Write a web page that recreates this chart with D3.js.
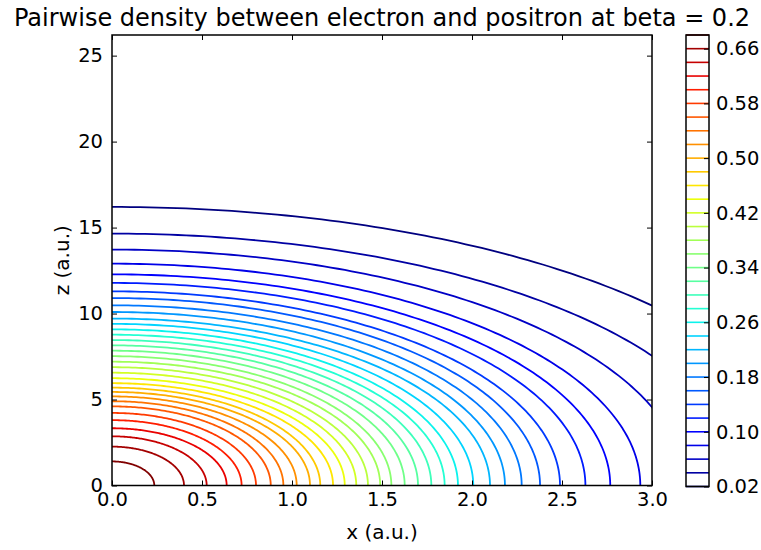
<!DOCTYPE html>
<html>
<head>
<meta charset="utf-8">
<script src="https://cdn.jsdelivr.net/npm/d3@7"></script>
<style>
  body { margin: 0; background: #fff; }
  text { font-family: "DejaVu Sans", sans-serif; fill: #000; }
</style>
</head>
<body>
<script>
// contour levels of the pairwise density
const levels = [0.02, 0.04, 0.06, 0.08, 0.10, 0.12, 0.14, 0.16, 0.18, 0.20, 0.22, 0.24,
  0.26, 0.28, 0.30, 0.32, 0.34, 0.36, 0.38, 0.40, 0.42, 0.44, 0.46, 0.48, 0.50,
  0.52, 0.54, 0.56, 0.58, 0.60, 0.62, 0.64, 0.66, 0.68]
// where each contour meets the x axis (z = 0), in a.u.
const xCross = [3.93, 3.50, 3.18, 2.935, 2.768, 2.63, 2.489, 2.378, 2.276, 2.183, 2.10, 2.007,
  1.922, 1.848, 1.774, 1.70, 1.626, 1.552, 1.49, 1.422, 1.357, 1.293, 1.228, 1.157, 1.10,
  1.026, 0.952, 0.882, 0.80, 0.72, 0.637, 0.526, 0.40, 0.235]
// where each contour meets the z axis (x = 0), in a.u.
const zCross = [16.2, 14.65, 13.72, 12.9, 12.28, 11.78, 11.29, 10.9, 10.48, 10.09, 9.71, 9.4,
  9.08, 8.77, 8.46, 8.15, 7.84, 7.52, 7.2, 6.88, 6.56, 6.24, 5.95, 5.69, 5.44,
  5.18, 4.9, 4.6, 4.22, 3.8, 3.33, 2.86, 2.26, 1.4]
const xTicks = [0, 0.5, 1.0, 1.5, 2.0, 2.5, 3.0]
const zTicks = [0, 5, 10, 15, 20, 25]
const barTicks = [0.02, 0.10, 0.18, 0.26, 0.34, 0.42, 0.50, 0.58, 0.66]

const w = 761
const h = 550
const padLeft = 112, padRight = 652, padTop = 35, padBottom = 485.5
const tickFont = 19.5

// matplotlib "jet"
const jetR = d3.scaleLinear().domain([0, 0.35, 0.66, 0.89, 1]).range([0, 0, 1, 1, 0.5]).clamp(true)
const jetG = d3.scaleLinear().domain([0, 0.125, 0.375, 0.64, 0.91, 1]).range([0, 0, 1, 1, 0, 0]).clamp(true)
const jetB = d3.scaleLinear().domain([0, 0.11, 0.34, 0.65, 1]).range([0.5, 1, 1, 0, 0]).clamp(true)
const norm = d3.scaleLinear().domain([d3.min(levels), d3.max(levels)]).range([0, 1])
const color = v => {
  const t = norm(v)
  return d3.rgb(jetR(t) * 255, jetG(t) * 255, jetB(t) * 255).toString()
}

const xScale = d3.scaleLinear().domain([0, 3]).range([padLeft, padRight])
const yScale = d3.scaleLinear().domain([0, 26.2]).range([padBottom, padTop])

const svg = d3.select('body')
  .append('svg')
  .attr('width', w)
  .attr('height', h)

svg.append('defs').append('clipPath')
  .attr('id', 'plotclip')
  .append('rect')
  .attr('x', padLeft).attr('y', padTop)
  .attr('width', padRight - padLeft).attr('height', padBottom - padTop)

const line = d3.line()
  .x(d => xScale(d[0]))
  .y(d => yScale(d[1]))

const angles = d3.range(0, 121).map(i => i / 120 * Math.PI / 2)

svg.append('g')
  .attr('clip-path', 'url(#plotclip)')
  .selectAll('path')
  .data(levels)
  .enter()
  .append('path')
  .attr('d', (d, i) => line(angles.map(t => [xCross[i] * Math.cos(t), zCross[i] * Math.sin(t)])))
  .attr('fill', 'none')
  .attr('stroke', d => color(d))
  .attr('stroke-width', 1.8)

// axes, matplotlib classic style: ticks pointing inward on all sides
const fmtX = d3.format('.1f')
svg.append('g')
  .attr('transform', `translate(0, ${padBottom})`)
  .call(d3.axisBottom(xScale).tickValues(xTicks).tickFormat(fmtX).tickSizeInner(-5).tickSizeOuter(0).tickPadding(7))
svg.append('g')
  .attr('transform', `translate(0, ${padTop})`)
  .call(d3.axisTop(xScale).tickValues(xTicks).tickFormat('').tickSizeInner(-5).tickSizeOuter(0))
svg.append('g')
  .attr('transform', `translate(${padLeft}, 0)`)
  .call(d3.axisLeft(yScale).tickValues(zTicks).tickFormat(d3.format('d')).tickSizeInner(-5).tickSizeOuter(0).tickPadding(9))
svg.append('g')
  .attr('transform', `translate(${padRight}, 0)`)
  .call(d3.axisRight(yScale).tickValues(zTicks).tickFormat('').tickSizeInner(-5).tickSizeOuter(0))

svg.selectAll('.domain').remove()
svg.selectAll('.tick line').attr('stroke', '#000').attr('stroke-width', 1)
svg.selectAll('.tick text').attr('font-size', tickFont).attr('font-family', '"DejaVu Sans", sans-serif')

svg.append('rect')
  .attr('x', padLeft).attr('y', padTop)
  .attr('width', padRight - padLeft).attr('height', padBottom - padTop)
  .attr('fill', 'none')
  .attr('stroke', '#000')
  .attr('stroke-width', 1.5)

svg.append('text')
  .attr('x', (padLeft + padRight) / 2)
  .attr('y', 26)
  .attr('text-anchor', 'middle')
  .attr('font-size', 24)
  .text('Pairwise density between electron and positron at beta = 0.2')

svg.append('text')
  .attr('x', (padLeft + padRight) / 2)
  .attr('y', 539)
  .attr('text-anchor', 'middle')
  .attr('font-size', 20)
  .text('x (a.u.)')

svg.append('text')
  .attr('transform', `translate(69, ${(padTop + padBottom) / 2}) rotate(-90)`)
  .attr('text-anchor', 'middle')
  .attr('font-size', 20)
  .text('z (a.u.)')

// colorbar
const cbLeft = 686, cbRight = 709
const cbScale = d3.scaleLinear().domain([d3.min(levels), d3.max(levels)]).range([486.5, 35])

svg.append('g')
  .selectAll('line')
  .data(levels)
  .enter()
  .append('line')
  .attr('x1', cbLeft).attr('x2', cbRight)
  .attr('y1', d => cbScale(d)).attr('y2', d => cbScale(d))
  .attr('stroke', d => color(d))
  .attr('stroke-width', 1.6)

const cbAxis = svg.append('g')
  .attr('transform', `translate(${cbRight}, 0)`)
  .call(d3.axisRight(cbScale).tickValues(barTicks).tickFormat(d3.format('.2f')).tickSizeInner(-5).tickSizeOuter(0).tickPadding(7))
cbAxis.select('.domain').remove()
cbAxis.selectAll('.tick line').attr('stroke', '#000')
cbAxis.selectAll('.tick text').attr('font-size', tickFont).attr('font-family', '"DejaVu Sans", sans-serif')

svg.append('rect')
  .attr('x', cbLeft).attr('y', 35)
  .attr('width', cbRight - cbLeft).attr('height', 486.5 - 35)
  .attr('fill', 'none')
  .attr('stroke', '#000')
  .attr('stroke-width', 1.5)
</script>
</body>
</html>
